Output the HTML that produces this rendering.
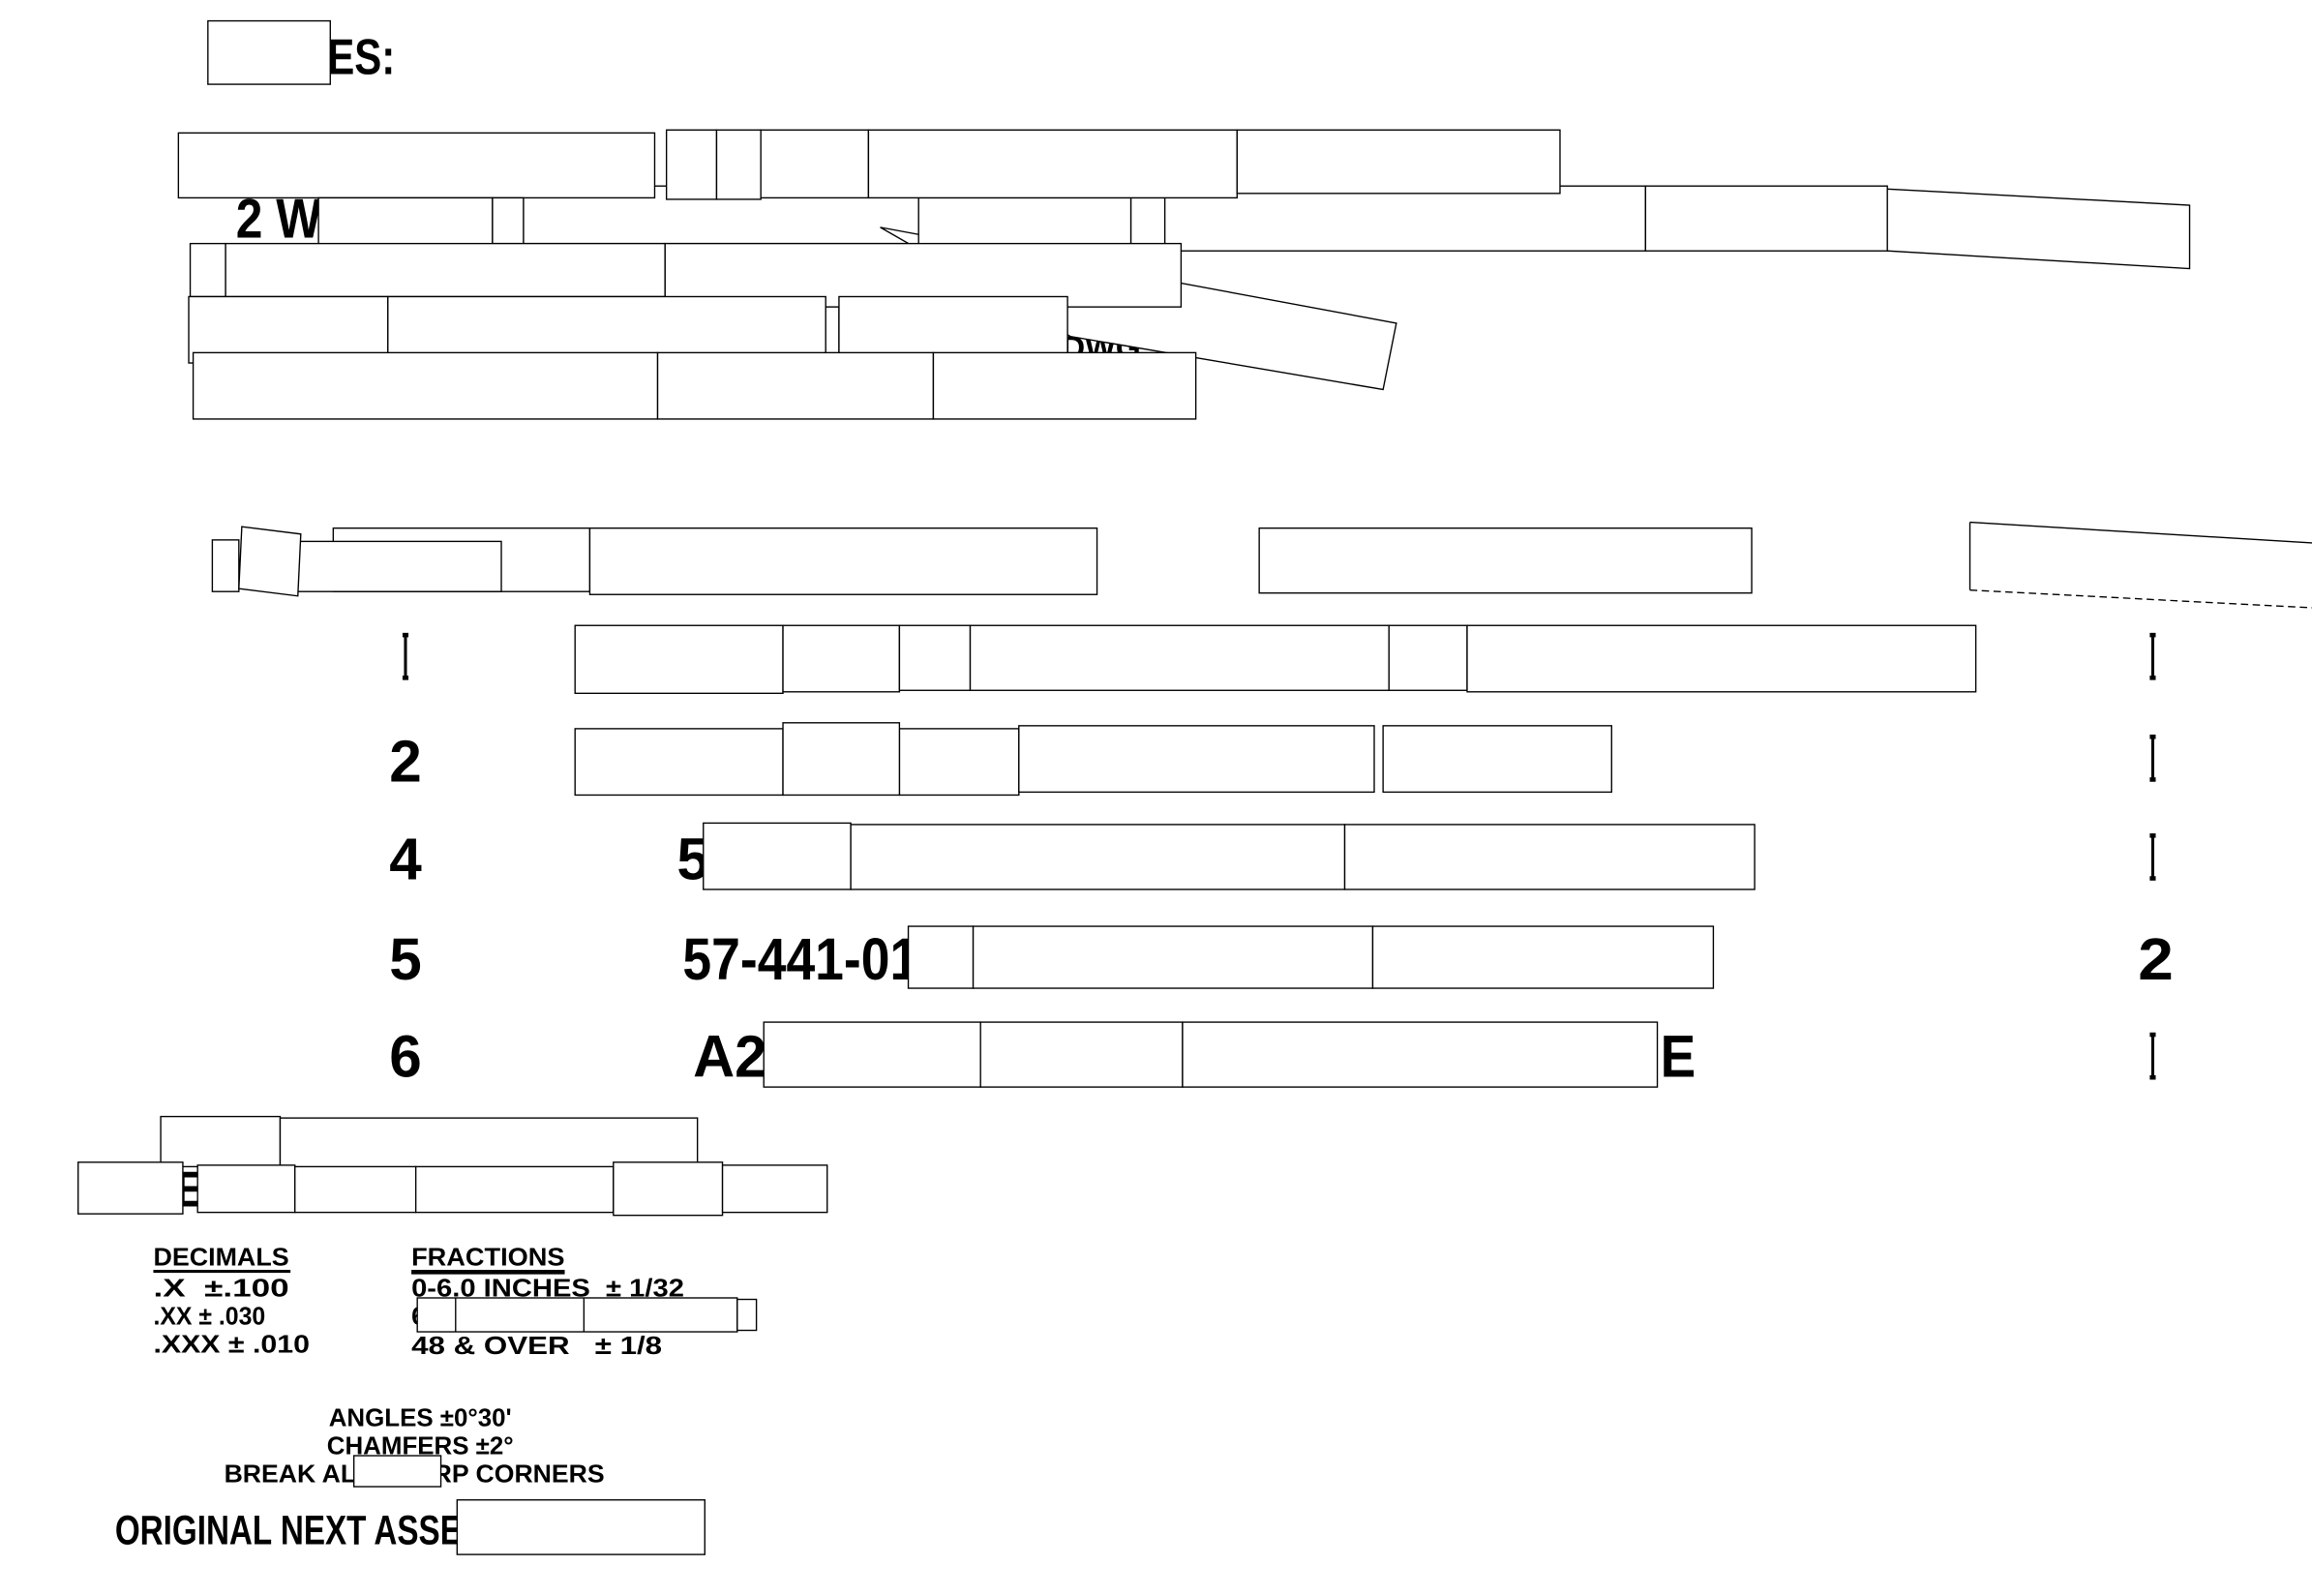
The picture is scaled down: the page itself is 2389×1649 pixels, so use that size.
<!DOCTYPE html>
<html><head><meta charset="utf-8"><style>html,body{margin:0;padding:0;background:#fff}svg{display:block}</style></head><body>
<svg width="2389" height="1649" viewBox="0 0 1568 1082" xmlns="http://www.w3.org/2000/svg" font-family="Liberation Sans, sans-serif">
<g fill="#fff" stroke="#000" stroke-width="0.9">
<text x="222" y="50" font-size="34" font-weight="bold" fill="#000" stroke="none" textLength="46" lengthAdjust="spacingAndGlyphs">ES:</text>
<rect x="141" y="14" width="83" height="43"/>
<text x="160" y="161" font-size="38" font-weight="bold" fill="#000" stroke="none" textLength="58" lengthAdjust="spacingAndGlyphs">2 W</text>
<text x="720" y="243" font-size="22" font-weight="bold" fill="#000" stroke="none">DWG</text>
<rect x="355" y="126" width="268" height="39"/>
<polygon points="597,154 947,219 938,264 726,228"/>
<rect x="623" y="134" width="144" height="36"/>
<rect x="767" y="134" width="23" height="36"/>
<rect x="790" y="126" width="326" height="44"/>
<rect x="1116" y="126" width="164" height="44"/>
<polygon points="1280,128 1485,139 1485,182 1280,170"/>
<rect x="121" y="90" width="323" height="44"/>
<rect x="452" y="88" width="34" height="47"/>
<rect x="486" y="88" width="30" height="47"/>
<rect x="516" y="88" width="73" height="46"/>
<rect x="589" y="88" width="250" height="46"/>
<rect x="839" y="88" width="219" height="43"/>
<rect x="216" y="134" width="118" height="37"/>
<rect x="334" y="134" width="21" height="31"/>
<rect x="451" y="165" width="350" height="43"/>
<rect x="129" y="165" width="24" height="36"/>
<rect x="153" y="165" width="298" height="36"/>
<rect x="263" y="201" width="297" height="46"/>
<rect x="560" y="208" width="9" height="39"/>
<rect x="569" y="201" width="155" height="46"/>
<rect x="128" y="201" width="135" height="45"/>
<rect x="131" y="239" width="315" height="45"/>
<rect x="446" y="239" width="187" height="45"/>
<rect x="633" y="239" width="178" height="45"/>

<rect x="144" y="366" width="18" height="35"/>
<rect x="226" y="358" width="174" height="43"/>
<rect x="201" y="367" width="139" height="34"/>
<polygon points="164,357 204,362 202,404 162,399"/>
<rect x="400" y="358" width="344" height="45"/>
<rect x="854" y="358" width="334" height="44"/>
<path d="M1336,354 L1568,368 M1336,354 L1336,400" fill="none"/>
<path d="M1336,400 L1568,412" fill="none" stroke-dasharray="5,3"/>

<g fill="#000" stroke="none" font-size="40" font-weight="bold">
<text x="264" y="530" textLength="22" lengthAdjust="spacingAndGlyphs">2</text>
<text x="264" y="596" textLength="22" lengthAdjust="spacingAndGlyphs">4</text>
<text x="264" y="664" textLength="22" lengthAdjust="spacingAndGlyphs">5</text>
<text x="264" y="730" textLength="22" lengthAdjust="spacingAndGlyphs">6</text>
<text x="459" y="596" textLength="22" lengthAdjust="spacingAndGlyphs">5</text>
<text x="463" y="664" textLength="160" lengthAdjust="spacingAndGlyphs">57-441-01</text>
<text x="470" y="730" textLength="50" lengthAdjust="spacingAndGlyphs">A2</text>
<text x="1126" y="730" textLength="24" lengthAdjust="spacingAndGlyphs">E</text>
<text x="1450" y="664" textLength="24" lengthAdjust="spacingAndGlyphs">2</text>
</g>
<g stroke-width="2" fill="none">
<path d="M275,430 V460 M1460,430 V460 M1460,499 V529 M1460,566 V596 M1460,701 V731"/>
</g>
<g fill="#000" stroke="none">
<rect x="273" y="429" width="4" height="3"/><rect x="273" y="458" width="4" height="3"/>
<rect x="1458" y="429" width="4" height="3"/><rect x="1458" y="458" width="4" height="3"/>
<rect x="1458" y="498" width="4" height="3"/><rect x="1458" y="527" width="4" height="3"/>
<rect x="1458" y="565" width="4" height="3"/><rect x="1458" y="594" width="4" height="3"/>
<rect x="1458" y="700" width="4" height="3"/><rect x="1458" y="729" width="4" height="3"/>
</g>
<rect x="390" y="424" width="141" height="46"/>
<rect x="531" y="424" width="79" height="45"/>
<rect x="610" y="424" width="48" height="44"/>
<rect x="658" y="424" width="284" height="44"/>
<rect x="942" y="424" width="53" height="44"/>
<rect x="995" y="424" width="345" height="45"/>
<rect x="390" y="494" width="141" height="45"/>
<rect x="610" y="494" width="81" height="45"/>
<rect x="531" y="490" width="79" height="49"/>
<rect x="691" y="492" width="241" height="45"/>
<rect x="938" y="492" width="155" height="45"/>
<rect x="477" y="558" width="100" height="45"/>
<rect x="577" y="559" width="335" height="44"/>
<rect x="912" y="559" width="278" height="44"/>
<rect x="616" y="628" width="44" height="42"/>
<rect x="660" y="628" width="271" height="42"/>
<rect x="931" y="628" width="231" height="42"/>
<rect x="518" y="693" width="147" height="44"/>
<rect x="665" y="693" width="137" height="44"/>
<rect x="802" y="693" width="322" height="44"/>

<text x="118" y="818" font-size="34" font-weight="bold" fill="#000" stroke="none">E</text>
<rect x="109" y="757" width="81" height="34"/>
<rect x="190" y="758" width="283" height="34"/>
<rect x="53" y="788" width="71" height="35"/>
<rect x="134" y="790" width="66" height="32"/>
<rect x="200" y="791" width="82" height="31"/>
<rect x="282" y="791" width="134" height="31"/>
<rect x="416" y="788" width="74" height="36"/>
<rect x="490" y="790" width="71" height="32"/>

<g fill="#000" stroke="none" font-size="17" font-weight="bold">
<text x="104" y="858" textLength="92" lengthAdjust="spacingAndGlyphs">DECIMALS</text>
<text x="104" y="879" textLength="92" lengthAdjust="spacingAndGlyphs">.X&#160;&#160;±.100</text>
<text x="104" y="898" textLength="76" lengthAdjust="spacingAndGlyphs">.XX ± .030</text>
<text x="104" y="917" textLength="106" lengthAdjust="spacingAndGlyphs">.XXX ± .010</text>
<text x="279" y="858" textLength="104" lengthAdjust="spacingAndGlyphs">FRACTIONS</text>
<text x="279" y="879" textLength="185" lengthAdjust="spacingAndGlyphs">0-6.0 INCHES&#160;&#160;± 1/32</text>
<text x="279" y="898">6</text>
<text x="279" y="918" textLength="170" lengthAdjust="spacingAndGlyphs">48 &amp; OVER&#160;&#160;&#160;± 1/8</text>
<text x="285" y="967" text-anchor="middle">ANGLES ±0°30'</text>
<text x="285" y="986" text-anchor="middle">CHAMFERS ±2°</text>
<text x="281" y="1005" text-anchor="middle" textLength="258" lengthAdjust="spacingAndGlyphs">BREAK ALL SHARP CORNERS</text>
<text x="78" y="1047" font-size="28" textLength="235" lengthAdjust="spacingAndGlyphs">ORIGINAL NEXT ASSE</text>
</g>
<rect x="104" y="861" width="93" height="2" fill="#000" stroke="none"/>
<rect x="279" y="861" width="104" height="3" fill="#000" stroke="none"/>
<rect x="283" y="880" width="217" height="23"/>
<rect x="500" y="881" width="13" height="21"/>
<line x1="309" y1="880" x2="309" y2="903"/><line x1="396" y1="880" x2="396" y2="903"/>
<rect x="240" y="987" width="59" height="21"/>
<rect x="310" y="1017" width="168" height="37"/>
</g>
</svg>
</body></html>
